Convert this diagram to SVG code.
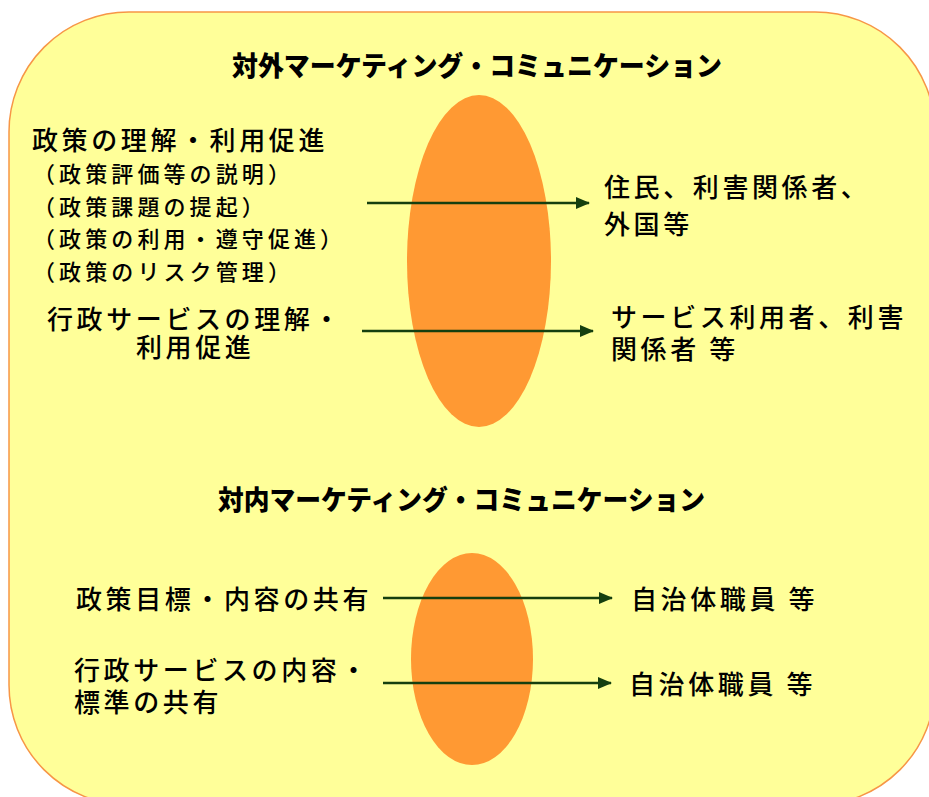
<svg xmlns="http://www.w3.org/2000/svg" width="929" height="797" viewBox="0 0 929 797">
<style>
  .t { font-family: "Noto Sans CJK JP", "Noto Sans", sans-serif; fill: #000; font-weight: 500; }
  .m { font-size: 26px; letter-spacing: 3.6px; }
  .s { font-size: 22px; letter-spacing: 4.1px; }
  .h { font-size: 27px; font-weight: 900; }
  .ell { fill: #FF9933; }
  .arr { stroke: #153F0F; stroke-width: 2.5; fill: none; marker-end: url(#ah); }
</style>
<defs>
  <marker id="ah" viewBox="0 0 14 12" refX="13" refY="6" markerWidth="14" markerHeight="12" markerUnits="userSpaceOnUse" orient="auto">
    <polygon points="0,0 14,6 0,12" fill="#153F0F"/>
  </marker>
</defs>
<rect width="929" height="797" fill="#FFFFFF"/>
<g id="frame">
  <rect x="9" y="12" width="926" height="793" rx="120" ry="120" fill="#FFFF99" stroke="#F79646" stroke-width="1.5"/>
</g>
<g id="ellipse-external"><ellipse class="ell" cx="479" cy="261" rx="72" ry="166"/></g>
<g id="ellipse-internal"><ellipse class="ell" cx="472" cy="659" rx="61" ry="106"/></g>

<g id="title-external"><text class="t h" x="232" y="76" textLength="490" lengthAdjust="spacingAndGlyphs">対外マーケティング・コミュニケーション</text></g>
<g id="title-internal"><text class="t h" x="218" y="510" textLength="487" lengthAdjust="spacingAndGlyphs">対内マーケティング・コミュニケーション</text></g>

<g id="src-policy">
  <text class="t m" x="32" y="150">政策の理解・利用促進</text>
  <text class="t s" x="33" y="182">（政策評価等の説明）</text>
  <text class="t s" x="33" y="215">（政策課題の提起）</text>
  <text class="t s" x="33" y="247">（政策の利用・遵守促進）</text>
  <text class="t s" x="33" y="280">（政策のリスク管理）</text>
</g>
<g id="src-service">
  <text class="t m" x="47" y="329">行政サービスの理解・</text>
  <text class="t m" x="136" y="357">利用促進</text>
</g>
<g id="dst-residents">
  <text class="t m" x="604" y="197">住民、利害関係者、</text>
  <text class="t m" x="604" y="234">外国等</text>
</g>
<g id="dst-users">
  <text class="t m" x="611" y="327">サービス利用者、利害</text>
  <text class="t m" x="611" y="359">関係者 等</text>
</g>
<g id="src-goals">
  <text class="t m" x="76" y="609">政策目標・内容の共有</text>
</g>
<g id="src-standards">
  <text class="t m" x="74" y="680">行政サービスの内容・</text>
  <text class="t m" x="74" y="712">標準の共有</text>
</g>
<g id="dst-staff1"><text class="t m" x="631" y="609">自治体職員 等</text></g>
<g id="dst-staff2"><text class="t m" x="629" y="694">自治体職員 等</text></g>

<g id="connectors">
  <line class="arr" x1="367" y1="203" x2="589" y2="203"/>
  <line class="arr" x1="362" y1="331" x2="593" y2="331"/>
  <line class="arr" x1="383" y1="598" x2="612" y2="598"/>
  <line class="arr" x1="383" y1="683" x2="611" y2="683"/>
</g>
</svg>
